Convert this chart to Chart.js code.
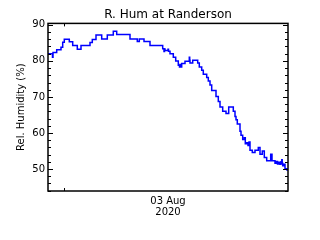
<!DOCTYPE html>
<html>
<head>
<meta charset="utf-8">
<script src="https://cdn.jsdelivr.net/npm/chart.js@4/dist/chart.umd.min.js"></script>
<style>
  html, body { margin: 0; padding: 0; background: #fff; }
  canvas { display: block; }
</style>
</head>
<body>
<canvas id="myChart" width="320" height="240"></canvas>
<script>
// hours relative to 00:00 on 03 Aug 2020
const hours = [
  -1.6, -1.15, -1.1, -0.73, -0.3, -0.13, 0.03, 0.53, 0.87, 1.33,
  1.7, 2.6, 2.83, 3.2, 3.77, 4.33, 4.93, 5.27, 6.6, 7.33,
  7.53, 8.0, 8.6, 9.87, 10.0, 10.05, 10.1, 10.4, 10.45, 10.6,
  10.93, 11.17, 11.43, 11.55, 11.6, 11.7, 11.77, 12.1, 12.53, 12.57,
  12.6, 12.87, 13.37, 13.53, 13.77, 13.93, 14.27, 14.43, 14.6, 14.77,
  15.2, 15.43, 15.6, 15.87, 16.2, 16.47, 16.93, 17.1, 17.2, 17.33,
  17.6, 17.7, 17.87, 18.03, 18.13, 18.27, 18.4, 18.5, 18.6, 18.83,
  19.1, 19.43, 19.6, 19.83, 20.03, 20.27, 20.67, 20.8, 21.1, 21.25,
  21.35, 21.5, 21.6, 21.7, 21.78, 21.82, 21.87, 22.0, 22.1, 22.3,
  22.4
];
const humidity = [
  82.0, 81.0, 82.3, 83.1, 83.8, 85.2, 86.0, 85.3, 84.3, 83.2,
  84.3, 85.1, 85.9, 87.2, 86.1, 87.2, 88.2, 87.3, 86.1, 85.4,
  86.1, 85.4, 84.3, 83.4, 82.6, 83.3, 82.9, 83.2, 82.7, 82.0,
  81.0, 80.0, 78.8, 78.3, 79.0, 78.3, 79.3, 79.9, 81.0, 80.2,
  79.4, 80.2, 79.4, 78.3, 77.4, 76.3, 75.4, 74.4, 73.3, 71.8,
  70.1, 68.7, 67.2, 66.0, 65.4, 67.2, 66.0, 64.6, 63.7, 62.5,
  60.5, 59.4, 58.2, 58.7, 57.0, 57.3, 56.5, 57.5, 55.2, 54.6,
  55.2, 56.0, 54.1, 55.0, 53.2, 52.3, 54.1, 52.3, 51.6, 52.1,
  51.4, 51.9, 51.3, 52.0, 52.6, 51.6, 50.9, 51.3, 50.1, 49.7,
  49.8
];
const yTicks = [50, 60, 70, 80, 90];
const xTicks = [0];
const yMin = 43.9, yMax = 90.4;

// IDL-style box with inward ticks
const frame = {
  id: "frame",
  afterDatasetsDraw(chart) {
    const { ctx, chartArea: a, scales: { x, y } } = chart;
    ctx.save();
    ctx.strokeStyle = "#000";
    ctx.lineWidth = 1.5;
    ctx.strokeRect(a.left, a.top, a.width, a.height);
    ctx.lineWidth = 1;
    ctx.beginPath();
    for (let v = 44; v <= 90; v += 2) {
      const py = Math.round(y.getPixelForValue(v)) + 0.5;
      const len = v % 10 === 0 ? 5 : 3;
      ctx.moveTo(a.left, py);
      ctx.lineTo(a.left + len, py);
      ctx.moveTo(a.right, py);
      ctx.lineTo(a.right - len, py);
    }
    xTicks.forEach((v) => {
      const px = Math.round(x.getPixelForValue(v)) + 0.5;
      ctx.moveTo(px, a.bottom);
      ctx.lineTo(px, a.bottom - 3);
      ctx.moveTo(px, a.top);
      ctx.lineTo(px, a.top + 3);
    });
    ctx.stroke();
    ctx.restore();
  },
};

const ctx = document.getElementById("myChart").getContext("2d");
const myChart = new Chart(ctx, {
  type: "line",
  data: {
    datasets: [
      {
        label: "Rel. Humidity",
        data: hours.map((h, i) => ({ x: h, y: humidity[i] })),
        borderColor: "#0000ff",
        borderWidth: 1.5,
        pointRadius: 0,
        stepped: true,
        fill: false,
      },
    ],
  },
  options: {
    responsive: false,
    animation: false,
    // left 16 + y axis 32, right axis 32: title centres over the plot
    layout: { padding: { top: 0, right: 0, bottom: 0, left: 16 } },
    plugins: {
      legend: { display: false },
      tooltip: { enabled: false },
      title: {
        display: true,
        text: "R. Hum at Randerson",
        color: "#000",
        font: { family: "DejaVu Sans", size: 12, weight: "normal", lineHeight: 1.2 },
        padding: { top: 8, bottom: 1 },
      },
    },
    scales: {
      x: {
        type: "linear",
        min: -1.6,
        max: 22.4,
        grid: { display: false },
        border: { display: false },
        ticks: { display: false },
        title: {
          display: true,
          text: ["03 Aug", "2020"],
          color: "#000",
          font: { family: "DejaVu Sans", size: 10, lineHeight: 1.1 },
          padding: { top: 0, bottom: 22 },
        },
        afterFit: (scale) => {
          scale.height = 49;
          scale.paddingLeft = 0;
          scale.paddingRight = 0;
        },
      },
      y: {
        min: yMin,
        max: yMax,
        grid: { display: false, drawTicks: false },
        border: { display: false },
        afterBuildTicks: (scale) => {
          scale.ticks = yTicks.map((v) => ({ value: v }));
        },
        ticks: {
          color: "#000",
          padding: 3,
          font: { family: "DejaVu Sans", size: 10 },
        },
        title: {
          display: true,
          text: "Rel. Humidity (%)",
          color: "#000",
          font: { family: "DejaVu Sans", size: 10, lineHeight: 1.0 },
          padding: { top: 0, bottom: 0 },
        },
        afterFit: (scale) => {
          scale.width = 32;
          scale.paddingTop = 0;
          scale.paddingBottom = 0;
        },
      },
      y2: {
        position: "right",
        min: yMin,
        max: yMax,
        grid: { display: false, drawTicks: false },
        border: { display: false },
        ticks: { display: false },
        afterFit: (scale) => {
          scale.width = 32;
          scale.paddingTop = 0;
          scale.paddingBottom = 0;
        },
      },
    },
  },
  plugins: [frame],
});
</script>
</body>
</html>
